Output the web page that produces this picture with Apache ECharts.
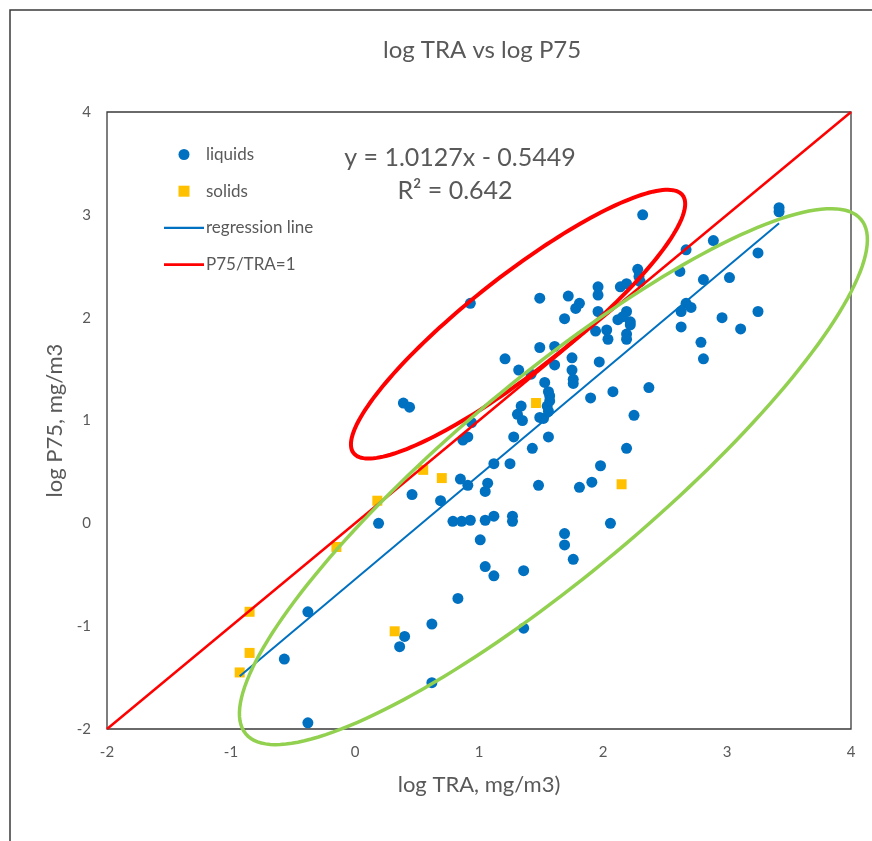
<!DOCTYPE html>
<html>
<head>
<meta charset="utf-8">
<title>log TRA vs log P75</title>
<script src="https://cdn.jsdelivr.net/npm/echarts/dist/echarts.min.js"></script>
<style>
  html, body { margin: 0; padding: 0; background: #ffffff; }
  #chart { width: 872px; height: 841px; }
</style>
</head>
<body>
<div id="chart"></div>
<script>
// log TRA (x) and log P75 (y), mg/m3
const liquidsX = [3.42, 3.42, 2.32, 0.93, 0.39, 0.44, 2.89, 2.67, 3.25, 2.28, 2.29, 2.30, 2.62, 3.02, 2.81,
  1.96, 1.96, 2.14, 2.19, 1.72, 1.81, 1.78, 2.67, 2.63, 2.71, 1.96, 2.19, 2.12, 2.22, 2.16, 2.22, 1.69,
  2.96, 3.25, 2.63, 3.11, 1.94, 2.03, 2.04, 2.19, 2.19, 1.75, 1.97, 2.79, 2.81, 1.75, 1.76, 1.76, 1.90,
  2.08, 2.37, 2.25, 2.19, 1.98, 1.81, 1.91, 2.06, 1.69, 1.69, 1.76, 1.49, 1.49, 1.61, 1.21, 1.61, 1.32,
  1.42, 1.53, 1.56, 1.57, 1.57, 1.55, 1.56, 1.52, 1.49, 1.34, 1.31, 1.35, 0.94, 0.87, 0.91, 1.28, 1.43,
  1.56, 1.12, 1.25, 0.85, 0.91, 1.07, 1.05, 1.48, 0.46, 0.69, 0.19, 0.79, 0.86, 0.93, 1.05, 1.12, 1.27,
  1.27, 1.01, 1.05, 1.12, 1.36, 0.83, -0.38, -0.57, -0.38, 0.40, 0.36, 0.62, 0.62, 1.36];
const liquidsY = [3.07, 3.03, 3.00, 2.14, 1.17, 1.13, 2.75, 2.66, 2.63, 2.47, 2.40, 2.35, 2.45, 2.39, 2.37,
  2.30, 2.22, 2.30, 2.33, 2.21, 2.14, 2.09, 2.14, 2.06, 2.10, 2.06, 2.06, 1.98, 1.96, 2.01, 1.93, 1.99,
  2.00, 2.06, 1.91, 1.89, 1.87, 1.88, 1.79, 1.84, 1.79, 1.61, 1.57, 1.76, 1.60, 1.49, 1.40, 1.36, 1.22,
  1.28, 1.32, 1.05, 0.73, 0.56, 0.35, 0.40, 0.00, -0.10, -0.21, -0.35, 2.19, 1.71, 1.72, 1.60, 1.54, 1.49,
  1.45, 1.37, 1.28, 1.24, 1.19, 1.14, 1.09, 1.02, 1.03, 1.14, 1.06, 1.00, 0.98, 0.81, 0.84, 0.84, 0.73,
  0.84, 0.58, 0.58, 0.43, 0.37, 0.39, 0.31, 0.37, 0.28, 0.22, 0.00, 0.02, 0.02, 0.03, 0.03, 0.07, 0.07,
  0.02, -0.16, -0.42, -0.51, -0.46, -0.73, -0.86, -1.32, -1.94, -1.10, -1.20, -0.98, -1.55, -1.02];

const solidsX = [-0.85, -0.85, -0.93, -0.15, 0.18, 0.55, 0.70, 0.32, 1.46, 2.15];
const solidsY = [-0.86, -1.26, -1.45, -0.23, 0.22, 0.52, 0.44, -1.05, 1.17, 0.38];

// Fitted regression: y = slope * x + intercept, drawn over the range of the data
const slope = 1.0127;
const intercept = -0.5449;
const r2 = 0.642;
const fitRange = [-0.93, 3.42];

// Axis range and tick spacing
const axisMin = -2;
const axisMax = 4;
const tickStep = 1;

const textGrey = '#595959';
const fontFamily = 'Lato, "Open Sans", "Liberation Sans", sans-serif';

const liquids = liquidsX.map((x, i) => [x, liquidsY[i]]);
const solids = solidsX.map((x, i) => [x, solidsY[i]]);
const fitLine = fitRange.map(x => [x, slope * x + intercept]);
const unityLine = [[axisMin, axisMin], [axisMax, axisMax]];

const chart = echarts.init(document.getElementById('chart'), null, { renderer: 'canvas' });

const axisCommon = {
  type: 'value',
  min: axisMin,
  max: axisMax,
  interval: tickStep,
  splitLine: { show: false },
  axisTick: { show: false },
  axisLine: { show: false },
  nameLocation: 'middle',
  nameTextStyle: { color: textGrey, fontSize: 22, fontFamily: fontFamily },
  axisLabel: { color: textGrey, fontSize: 15, fontFamily: fontFamily, margin: 16 }
};

chart.setOption({
  animation: false,
  backgroundColor: '#ffffff',
  title: {
    text: 'log TRA vs log P75',
    left: 378,
    top: 33,
    textStyle: { color: textGrey, fontSize: 24, fontWeight: 'normal', fontFamily: fontFamily }
  },
  grid: {
    left: 107, top: 112, right: 21, bottom: 112,
    show: true, borderColor: '#3a3a3a', borderWidth: 1.3, backgroundColor: 'transparent'
  },
  xAxis: Object.assign({}, axisCommon, {
    name: 'log TRA, mg/m3)',
    nameGap: 45
  }),
  yAxis: Object.assign({}, axisCommon, {
    name: 'log P75, mg/m3',
    nameGap: 39
  }),
  legend: {
    orient: 'vertical',
    left: 164,
    top: 146,
    padding: 0,
    itemWidth: 40,
    itemHeight: 11,
    itemGap: 19.7,
    selectedMode: false,
    textStyle: { color: textGrey, fontSize: 17, fontFamily: fontFamily, lineHeight: 11, padding: [0, 0, 0, -3] },
    data: [
      { name: 'liquids', icon: 'circle' },
      { name: 'solids', icon: 'path://M0,0h10v10h-10z' },
      { name: 'regression line', icon: 'path://M0,0h40v2.2h-40z' },
      { name: 'P75/TRA=1', icon: 'path://M0,0h40v2.6h-40z' }
    ]
  },
  series: [
    {
      name: 'P75/TRA=1',
      type: 'line',
      data: unityLine,
      symbol: 'none',
      lineStyle: { color: '#ff0000', width: 2.5 },
      itemStyle: { color: '#ff0000' },
      z: 3
    },
    {
      name: 'regression line',
      type: 'line',
      data: fitLine,
      symbol: 'none',
      lineStyle: { color: '#0070c0', width: 2 },
      itemStyle: { color: '#0070c0' },
      z: 3
    },
    {
      name: 'liquids',
      type: 'scatter',
      data: liquids,
      symbol: 'circle',
      symbolSize: 11,
      itemStyle: { color: '#0070c0', opacity: 1 },
      z: 2
    },
    {
      name: 'solids',
      type: 'scatter',
      data: solids,
      symbol: 'rect',
      symbolSize: 10,
      itemStyle: { color: '#ffc000', opacity: 1 },
      z: 2
    }
  ]
});

// Two highlight ellipses: centre in data units, semi-axes in pixels, tilt in degrees
const highlightEllipses = [
  { center: [1.315, 1.937], a: 209, b: 48, tilt: 38.1, color: '#ff0000', width: 4 },
  { center: [1.60, 0.454], a: 401, b: 98, tilt: 39.9, color: '#92d050', width: 3.5 }
];

function ellipsePoints(e) {
  const c = chart.convertToPixel({ gridIndex: 0 }, e.center);
  const th = e.tilt * Math.PI / 180;
  const major = [Math.cos(th), -Math.sin(th)];
  const minor = [-Math.sin(th), -Math.cos(th)];
  const pts = [];
  const n = 180;
  for (let i = 0; i < n; i++) {
    const t = (i / n) * Math.PI * 2;
    const ca = e.a * Math.cos(t), sb = e.b * Math.sin(t);
    pts.push([c[0] + ca * major[0] + sb * minor[0], c[1] + ca * major[1] + sb * minor[1]]);
  }
  return pts;
}

const graphics = [
  {
    // outer frame around the chart
    type: 'rect',
    shape: { x: 10, y: 10, width: 1000, height: 1000 },
    style: { fill: 'none', stroke: '#3a3a3a', lineWidth: 1.5 },
    silent: true, z: 0
  },
  {
    type: 'text', silent: true, z: 60,
    x: 460, y: 158,
    style: {
      text: 'y = ' + slope.toFixed(4) + 'x - ' + Math.abs(intercept).toFixed(4),
      fill: textGrey, font: '25px ' + fontFamily, align: 'center', verticalAlign: 'middle'
    }
  },
  {
    type: 'text', silent: true, z: 60,
    x: 455, y: 191,
    style: {
      text: 'R² = ' + r2.toFixed(3),
      fill: textGrey, font: '25px ' + fontFamily, align: 'center', verticalAlign: 'middle'
    }
  }
].concat(highlightEllipses.map(e => ({
  type: 'polygon',
  shape: { points: ellipsePoints(e) },
  style: { fill: 'none', stroke: e.color, lineWidth: e.width },
  silent: true,
  z: 50
})));

chart.setOption({ graphic: graphics });
</script>
</body>
</html>
